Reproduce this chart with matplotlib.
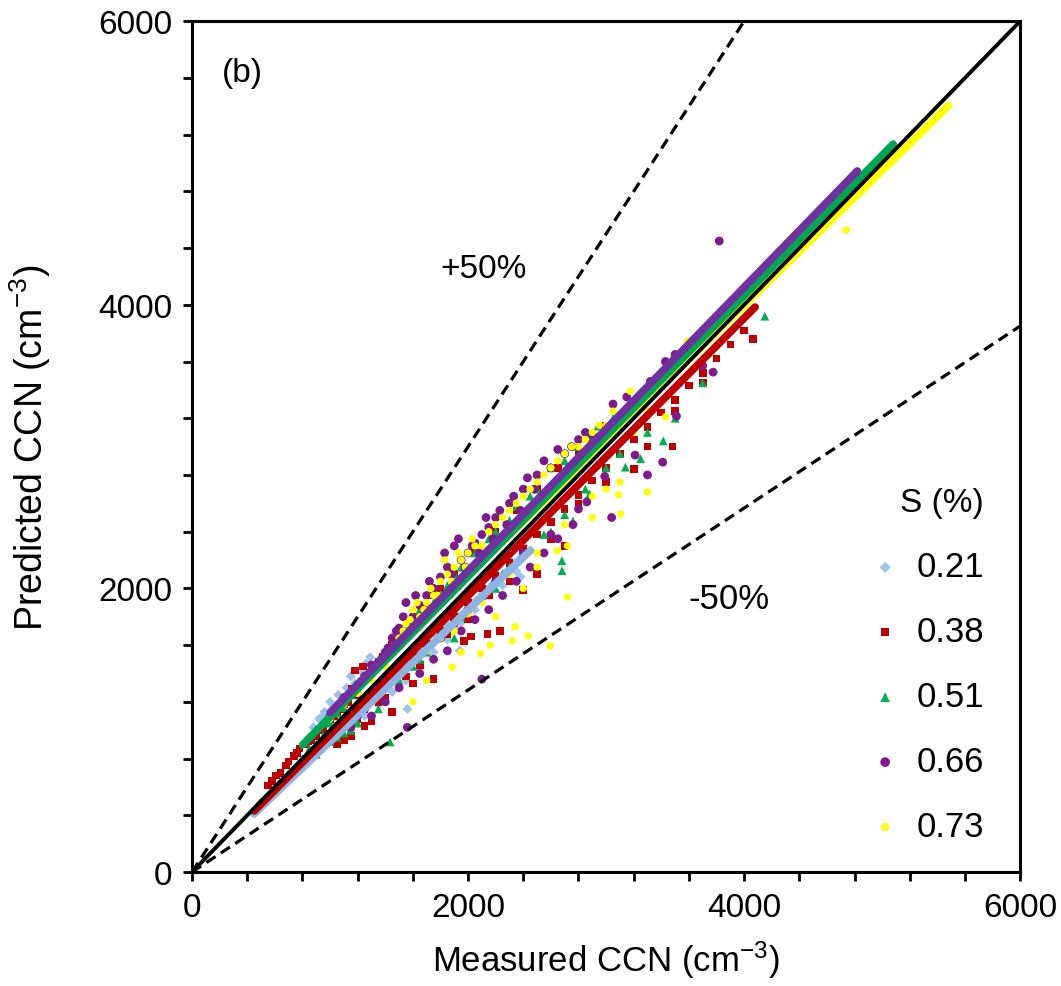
import matplotlib
matplotlib.use('Agg')
import matplotlib.pyplot as plt
import numpy as np

plt.rcParams['font.family'] = ['Liberation Sans', 'DejaVu Sans']
plt.rcParams['mathtext.fontset'] = 'custom'
plt.rcParams['mathtext.rm'] = 'Liberation Sans'
plt.rcParams['mathtext.it'] = 'Liberation Sans'

# S = 0.21 %
blue_x = [470, 500, 530, 560, 590, 620, 650, 680, 710, 740, 770, 800, 830, 860, 890, 920, 950, 980, 1010, 1040,
          1070, 1100, 1130, 1160, 1190, 1220, 1260, 1300, 1340, 1380, 1420, 1460, 1500, 1540, 1580, 1620, 1660, 1700,
          1740, 1780, 1820, 1860, 1900, 1940, 1980, 2020, 2060, 2100, 2140, 2180, 2220, 2260, 2300, 2340, 2380, 2420,
          2450,
          880, 920, 960, 1000, 1030, 1060, 1090, 1120, 1150, 1180, 1220, 1260, 1290,
          1150, 1250, 1350, 1450, 1550, 1650, 1750, 1850, 1950, 2050, 2150, 2250, 2350, 1560, 1940, 2380,
          500, 600, 700, 800, 900, 1000, 1100, 1200, 1300, 1400, 1500, 1600, 1700, 1800, 1900, 2000, 2100, 2200,
          2300, 2400, 950, 1050, 1000]
blue_y = [440, 470, 500, 525, 555, 585, 610, 640, 660, 700, 720, 745, 780, 800, 830, 860, 885, 910, 945, 970,
          995, 1030, 1050, 1085, 1110, 1140, 1170, 1215, 1245, 1290, 1320, 1360, 1395, 1430, 1475, 1500, 1545, 1585,
          1615, 1660, 1690, 1735, 1765, 1805, 1840, 1880, 1915, 1960, 1990, 2030, 2060, 2105, 2140, 2180, 2215, 2250,
          2270,
          1020, 1080, 1130, 1200, 1160, 1250, 1220, 1300, 1380, 1330, 1420, 1470, 1515,
          1000, 1100, 1180, 1270, 1350, 1440, 1550, 1640, 1760, 1850, 1950, 2020, 2120, 1150, 1560, 2080,
          490, 590, 680, 780, 870, 980, 1070, 1150, 1250, 1350, 1450, 1520, 1620, 1720, 1830, 1920, 2020, 2100,
          2200, 2300, 1100, 1180, 1050]

# S = 0.38 %
red_x = [550, 580, 610, 640, 700, 740, 780, 820, 860, 900, 950, 1000, 1050, 1100, 1160, 1180, 1240, 1300, 1380,
         1450, 1550, 1650, 1750, 1900, 2050, 2200, 2350, 2500, 2650, 2800, 2900, 3000,
         1000, 1100, 1200, 1300, 1400, 1500, 1600, 1700, 1800, 1900, 2000, 2100, 2200, 2300, 2400, 2500, 2600,
         2700, 2800, 2900, 3000, 3100, 3200, 3300, 3400, 3500, 3600, 3700, 3800, 3900, 4000,
         1050, 1100, 1150, 1250, 1300, 1450, 1600, 1750, 1970, 2020, 2140, 2230, 2400, 2500, 2700, 3200, 3480, 4065,
         680, 760, 840, 920, 980, 1030, 1080, 1130, 1200, 1280, 1350, 1420, 1500, 1600, 1700, 1800,
         1150, 1200, 1250, 1350, 1400, 1550, 1650, 1850, 2000, 2150, 2300, 2600, 2800, 3000, 3300, 3500, 3700]
red_y = [610, 640, 680, 700, 780, 820, 870, 900, 930, 960, 1010, 1080, 1120, 1180, 1290, 1420, 1450, 1420, 1520,
         1600, 1700, 1800, 1950, 2100, 2250, 2400, 2550, 2700, 2850, 2950, 3050, 3150,
         940, 1030, 1130, 1230, 1320, 1420, 1520, 1610, 1700, 1800, 1900, 2000, 2090, 2180, 2280, 2380, 2470,
         2560, 2660, 2760, 2850, 2950, 3050, 3140, 3240, 3330, 3430, 3520, 3620, 3720, 3820,
         900, 930, 960, 1030, 1060, 1130, 1330, 1360, 1630, 1660, 1680, 1700, 1990, 2100, 2300, 2840, 3000, 3760,
         750, 840, 920, 1000, 1060, 1100, 1150, 1200, 1250, 1380, 1480, 1550, 1650, 1750, 1860, 2000,
         1050, 1080, 1150, 1200, 1230, 1380, 1460, 1680, 1780, 1950, 2050, 2350, 2600, 2750, 3000, 3250, 3450]

# S = 0.51 %
green_x = [800, 850, 900, 950, 1000, 1050, 1100, 1200, 1300, 1400, 1500, 1600, 1700, 1800, 1900, 2050, 2200,
           2350, 2500, 2600, 2700, 2800, 2880, 2940, 3050,
           1000, 1100, 1150, 1200, 1350, 1500, 1650, 1800, 1950, 2100, 2250, 2400, 2550, 2700, 2760, 2880, 3000,
           3140, 3250, 3415, 3500, 3700, 4150,
           1435, 2680, 2680, 2300, 1900,
           1150, 1250, 1350, 1450, 1550, 1650, 1750, 1850, 1950, 2150, 2300, 2450, 1600, 1700, 2000, 2200, 2600,
           2850, 3100, 3300, 900, 1050]
green_y = [800, 870, 900, 960, 1050, 1120, 1160, 1290, 1420, 1550, 1620, 1780, 1830, 1960, 2100, 2250, 2400,
           2580, 2700, 2850, 2900, 3000, 3075, 3145, 3200,
           920, 980, 1000, 1050, 1150, 1350, 1500, 1680, 1800, 1950, 2100, 2250, 2380, 2520, 2475, 2665, 2850,
           2855, 2915, 3040, 3200, 3450, 3920,
           917, 2125, 2195, 2150, 1650,
           1250, 1380, 1500, 1600, 1720, 1850, 1900, 2020, 2150, 2350, 2480, 2650, 1450, 1550, 1850, 2000, 2400,
           2700, 2950, 3100, 830, 950]

# S = 0.66 %
purple_x = [1000, 1050, 1100, 1150, 1200, 1250, 1300, 1350, 1400, 1450, 1500, 1550, 1600, 1650, 1700, 1750,
            1800, 1850, 1900, 1950, 2000, 2050, 2100, 2150, 2200, 2300, 2400, 2500, 2550, 2650, 2750, 2850, 3050,
            3150, 3320, 3430, 3500,
            1150, 1300, 1400, 1500, 1560, 1650, 1750, 1850, 1950, 2050, 2100, 2150, 2250, 2350, 2450, 2550, 2650,
            2760, 2860, 2990, 3040, 3210, 3300, 3410, 3510, 3700, 3775, 3820,
            1420, 1480, 1530, 1580, 1620, 1680, 1720, 1780, 1830, 1880, 1930, 1980, 2030, 2080, 2130, 2180, 2230,
            2280, 2330, 2380, 2430, 2480, 2600, 2700, 2800, 2900, 1700, 1800, 1900, 2000, 2200, 2400, 2600, 2800,
            1250, 1350, 1450, 1100, 1200]
purple_y = [1100, 1150, 1230, 1250, 1320, 1380, 1460, 1480, 1550, 1650, 1720, 1900, 1800, 1880, 1950, 2000,
            2080, 2150, 2300, 2200, 2250, 2320, 2380, 2430, 2500, 2600, 2700, 2800, 2900, 2980, 3000, 3100, 3300,
            3350, 3460, 3600, 3650,
            1020, 1100, 1200, 1300, 1020, 1400, 1500, 1560, 1700, 1780, 1360, 1850, 1950, 2050, 2150, 2250, 2350,
            2450, 2610, 2790, 2500, 2940, 2800, 2890, 3215, 3570, 3525, 4450,
            1580, 1700, 1800, 1750, 1950, 1820, 2050, 1900, 2250, 2100, 2350, 2150, 2300, 2250, 2500, 2350, 2550,
            2450, 2650, 2550, 2780, 2700, 2850, 2950, 3050, 3080, 1600, 1650, 1750, 1850, 2050, 2250, 2380, 2560,
            1150, 1250, 1350, 1050, 1100]

# S = 0.73 %
yellow_x = [1500, 1550, 1600, 1650, 1700, 1750, 1800, 1850, 1900, 1950, 2000, 2050, 2150, 2250, 2350, 2450,
            2550, 2650, 2750, 2850, 2950, 3050, 3175, 3590,
            1200, 1300, 1400, 1100, 1000,
            1600, 1700, 1885, 1950, 2090, 2160, 2320, 2340, 2435, 2595, 2645, 2720, 2720, 2200, 2400, 2500, 2900,
            3090, 3105, 3300, 3430, 3000, 4740,
            1480, 1530, 1580, 1630, 1680, 1730, 1780, 1830, 1880, 1930, 1980, 2030, 2100, 2200, 2300, 2400, 2500,
            2600, 2700, 2800, 2900, 3000, 1700, 1800, 1900, 2000, 2100, 2300, 2500, 2700, 2900, 3100, 3200, 3300]
yellow_y = [1650, 1750, 1850, 1800, 1900, 1950, 2050, 2100, 2150, 2200, 2250, 2300, 2400, 2500, 2600, 2700,
            2800, 2900, 3000, 3050, 3150, 3250, 3390, 3745,
            1260, 1350, 1450, 1180, 1080,
            1200, 1350, 1445, 1550, 1540, 1600, 1630, 1730, 1665, 1595, 2265, 2300, 1940, 1800, 2000, 2150, 2500,
            2660, 2525, 2680, 3210, 2700, 4527,
            1580, 1700, 1780, 1900, 1850, 2000, 1950, 2200, 2050, 2250, 2150, 2350, 2300, 2450, 2550, 2650, 2750,
            2850, 2950, 3000, 3100, 3150, 1560, 1650, 1700, 1820, 1900, 2100, 2250, 2450, 2650, 2750, 3100, 3250]

labels = ['0.21', '0.38', '0.51', '0.66', '0.73']
# linear fit per series: slope, intercept, x range
fit_slope = [0.928, 0.979, 0.99, 1.0, 0.952]
fit_icpt = [-8, -10, 104, 124, 187]
fit_x0 = [450, 450, 800, 1000, 1500]
fit_x1 = [2450, 4080, 5080, 4820, 5480]

marker_cols = ['#9DC3E6', '#C00000', '#00B050', '#7F1A8E', '#FFFF00']
line_cols = ['#8DB4E2', '#C00000', '#00A651', '#7030A0', '#FFFF00']
markers = ['D', 's', '^', 'o', 'o']
msizes = [26, 30, 40, 40, 28]

fig = plt.figure(figsize=(10.61, 9.87), dpi=100)
ax = fig.add_axes([0.181, 0.1155, 0.7805, 0.862])

xs = [blue_x, red_x, green_x, purple_x, yellow_x]
ys = [blue_y, red_y, green_y, purple_y, yellow_y]
for i in range(5):
    ax.scatter(xs[i], ys[i], s=msizes[i], marker=markers[i], color=marker_cols[i],
               edgecolors='none', label=labels[i], zorder=2)

# fit lines drawn over the points
for i in [0, 1, 4, 2, 3]:
    fx = np.array([fit_x0[i], fit_x1[i]])
    ax.plot(fx, fit_slope[i] * fx + fit_icpt[i], color=line_cols[i], lw=5.5,
            solid_capstyle='round', zorder=3)

ax.plot([0, 6000], [0, 6000], color='black', lw=2.8, zorder=4)
ax.plot([0, 4000], [0, 6000], color='black', lw=2.3, ls=(0, (3.4, 2)), zorder=4)
ax.plot([0, 6000], [0, 3850], color='black', lw=2.3, ls=(0, (3.4, 2)), zorder=4)

ax.set_xlim(0, 6000)
ax.set_ylim(0, 6000)
ax.set_xticks([0, 2000, 4000, 6000])
ax.set_yticks([0, 2000, 4000, 6000])
ax.set_xticks(np.arange(0, 6001, 400), minor=True)
ax.set_yticks(np.arange(0, 6001, 400), minor=True)
ax.tick_params(which='both', direction='out', length=6.5, width=2)
ax.tick_params(labelsize=24, pad=8)
for sp in ax.spines.values():
    sp.set_linewidth(2.2)

ax.set_xlabel('Measured CCN (cm$^{-3}$)', fontsize=25, labelpad=11)
ax.set_ylabel('Predicted CCN (cm$^{-3}$)', fontsize=27, labelpad=32)

ax.text(0.036, 0.94, '(b)', transform=ax.transAxes, fontsize=24, va='center')
ax.text(0.30, 0.709, '+50%', transform=ax.transAxes, fontsize=24, va='center')
ax.text(0.60, 0.321, '-50%', transform=ax.transAxes, fontsize=25, va='center')

leg = ax.legend(title='S (%)', loc='upper left', bbox_to_anchor=(0.816, 0.452), frameon=False,
                fontsize=25, title_fontsize=24, labelspacing=0.92, handletextpad=0.4,
                handlelength=1.0, markerscale=1.1, borderaxespad=0, borderpad=0)
leg._legend_box.align = 'right'

fig.savefig('out.png', dpi=100)
